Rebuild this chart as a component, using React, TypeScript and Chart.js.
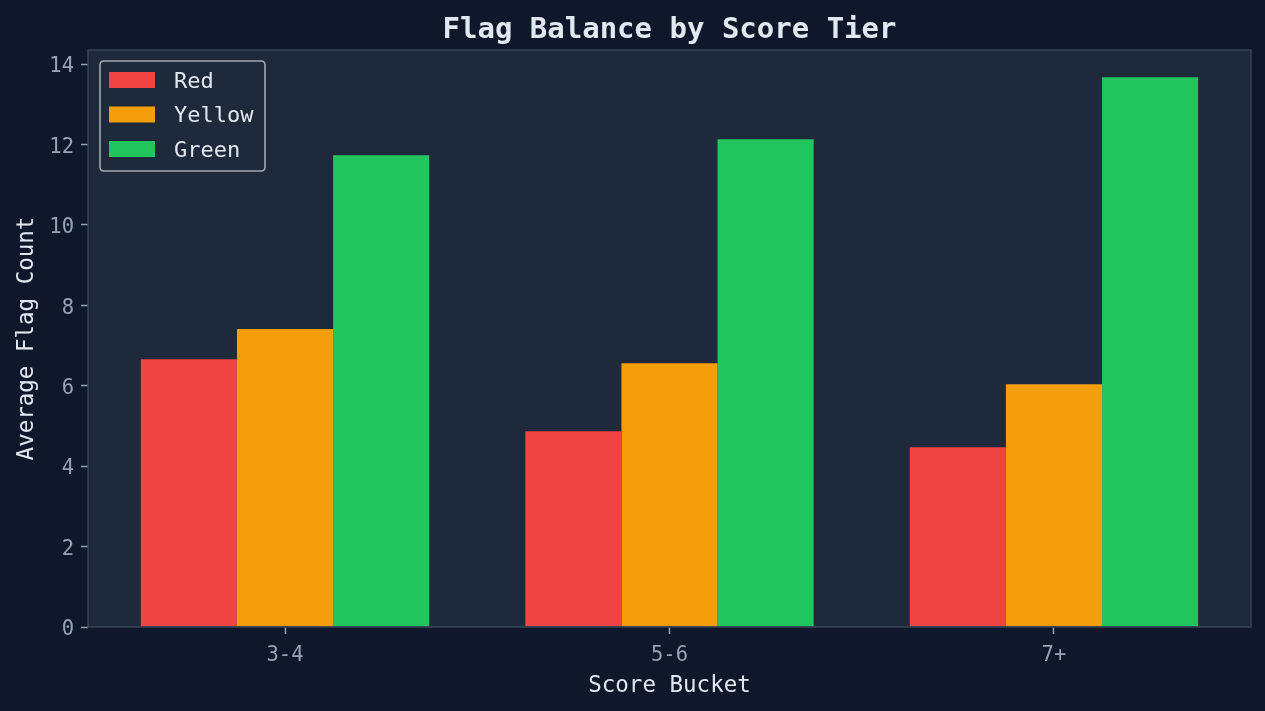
import React, { useEffect, useRef } from "react";
import { Chart, registerables } from "chart.js";

Chart.register(...registerables);

const categories = ["3-4", "5-6", "7+"];
const seriesNames = ["Red", "Yellow", "Green"];
const redValues = [6.66, 4.87, 4.47];
const yellowValues = [7.41, 6.56, 6.04];
const greenValues = [11.73, 12.13, 13.67];
const yTicks = [0, 2, 4, 6, 8, 10, 12, 14];
const seriesColors = ["#ef4444", "#f59e0b", "#22c55e"];

const FONT = "'DejaVu Sans Mono', monospace";
const W = 1265;
const H = 711;

export default function App() {
  const ref = useRef<HTMLCanvasElement | null>(null);

  useEffect(() => {
    const canvas = ref.current;
    if (!canvas) return;
    const allSeries = [redValues, yellowValues, greenValues];

    const bgPlugin = {
      id: "bgPlugin",
      beforeDraw(chart: any) {
        const { ctx, chartArea } = chart;
        ctx.save();
        ctx.fillStyle = "#0f172a";
        ctx.fillRect(0, 0, chart.width, chart.height);
        ctx.fillStyle = "#1e293b";
        ctx.fillRect(chartArea.left, chartArea.top, chartArea.right - chartArea.left, chartArea.bottom - chartArea.top);
        ctx.restore();
      },
      afterDatasetsDraw(chart: any) {
        const { ctx, chartArea } = chart;
        ctx.save();
        ctx.strokeStyle = "#334155";
        ctx.lineWidth = 1.6;
        ctx.strokeRect(chartArea.left, chartArea.top, chartArea.right - chartArea.left, chartArea.bottom - chartArea.top);
        ctx.restore();
      },
      afterDraw(chart: any) {
        const { ctx, chartArea } = chart;
        ctx.save();
        // title
        ctx.fillStyle = "#e2e8f0";
        ctx.font = `bold 29px ${FONT}`;
        ctx.textAlign = "center";
        ctx.textBaseline = "middle";
        ctx.fillText("Flag Balance by Score Tier", (chartArea.left + chartArea.right) / 2, 30);
        // legend
        const lx = chartArea.left + 12;
        const ly = chartArea.top + 11;
        const lw = 165;
        const lh = 110;
        const r = 4;
        ctx.beginPath();
        ctx.moveTo(lx + r, ly);
        ctx.lineTo(lx + lw - r, ly);
        ctx.quadraticCurveTo(lx + lw, ly, lx + lw, ly + r);
        ctx.lineTo(lx + lw, ly + lh - r);
        ctx.quadraticCurveTo(lx + lw, ly + lh, lx + lw - r, ly + lh);
        ctx.lineTo(lx + r, ly + lh);
        ctx.quadraticCurveTo(lx, ly + lh, lx, ly + lh - r);
        ctx.lineTo(lx, ly + r);
        ctx.quadraticCurveTo(lx, ly, lx + r, ly);
        ctx.closePath();
        ctx.fillStyle = "#1e293b";
        ctx.fill();
        ctx.strokeStyle = "#a1a7b0";
        ctx.lineWidth = 1.6;
        ctx.stroke();
        ctx.font = `22px ${FONT}`;
        ctx.textAlign = "left";
        chart.data.datasets.forEach((ds: any, i: number) => {
          const cy = ly + 19 + i * 34.5;
          ctx.fillStyle = ds.backgroundColor;
          ctx.fillRect(lx + 9, cy - 8, 46, 16);
          ctx.fillStyle = "#e2e8f0";
          ctx.fillText(ds.label, lx + 74, cy + 2);
        });
        ctx.restore();
      },
    };

    const chart = new Chart(canvas, {
      type: "bar",
      data: {
        datasets: seriesNames.map((name, i) => ({
          label: name,
          data: allSeries[i].map((v, j) => ({ x: j, y: v })),
          backgroundColor: seriesColors[i],
          borderWidth: 0,
          categoryPercentage: 0.75,
          barPercentage: 1.0,
        })),
      },
      options: {
        responsive: false,
        animation: false,
        devicePixelRatio: 1,
        layout: { padding: { top: 50, right: 14, left: 0, bottom: 0 } },
        plugins: {
          legend: { display: false },
          title: { display: false },
          tooltip: { enabled: false },
        },
        scales: {
          x: {
            type: "linear",
            min: -0.5125,
            max: 2.5125,
            offset: false,
            afterBuildTicks(scale: any) {
              scale.ticks = categories.map((_, i) => ({ value: i }));
            },
            afterFit(scale: any) {
              scale.height = 84;
            },
            ticks: {
              callback: (v: any) => categories[Number(v)] ?? "",
              color: "#94a3b8",
              font: { family: FONT, size: 20.5 },
              padding: 9,
              maxRotation: 0,
              autoSkip: false,
            },
            grid: {
              display: true,
              offset: false,
              drawOnChartArea: false,
              drawTicks: true,
              tickLength: 7,
              tickColor: "#94a3b8",
              tickWidth: 1.5,
            },
            border: { display: false },
            title: {
              display: true,
              text: "Score Bucket",
              color: "#e2e8f0",
              font: { family: FONT, size: 22.5 },
              padding: { top: 0, bottom: 11 },
            },
          },
          y: {
            type: "linear",
            min: 0,
            max: 14.35,
            afterBuildTicks(scale: any) {
              scale.ticks = yTicks.map((v) => ({ value: v }));
            },
            afterFit(scale: any) {
              scale.width = 88;
            },
            ticks: {
              color: "#94a3b8",
              font: { family: FONT, size: 20.5 },
              padding: 7,
              labelOffset: 3,
              includeBounds: false,
            },
            grid: {
              display: true,
              drawOnChartArea: false,
              drawTicks: true,
              tickLength: 7,
              tickColor: "#94a3b8",
              tickWidth: 1.5,
            },
            border: { display: false },
            title: {
              display: true,
              text: "Average Flag Count",
              color: "#e2e8f0",
              font: { family: FONT, size: 22.5 },
              padding: { top: 14, bottom: 0 },
            },
          },
        },
      },
      plugins: [bgPlugin],
    } as any);

    return () => chart.destroy();
  }, []);

  return (
    <div style={{ position: "absolute", left: 0, top: 0, width: W, height: H, background: "#0f172a" }}>
      <canvas ref={ref} width={W} height={H} style={{ display: "block" }} />
    </div>
  );
}
